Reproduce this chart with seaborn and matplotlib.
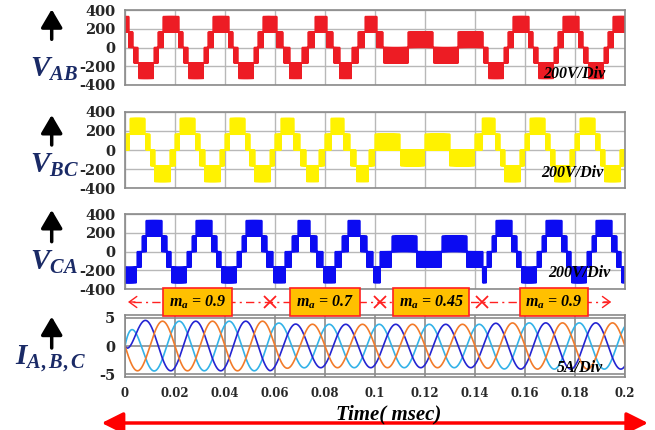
import numpy as np
import pandas as pd
import matplotlib
matplotlib.use("Agg")
import matplotlib.pyplot as plt
from matplotlib.patches import FancyArrowPatch
import seaborn as sns

# ---- operating schedule and waveform parameters ----
SEG_EDGES = [0.0, 0.058, 0.102, 0.143, 0.2]      # s, modulation-index change instants
MOD_INDEX = [0.9, 0.7, 0.45, 0.9]                # modulation index in each interval
CURRENT_AMP = [4.4, 3.85, 3.85, 4.1]             # A, load-current peak in each interval

LINE_NAMES = ["AB", "BC", "CA"]
LINE_PEAK_T = [-0.00167, 0.005, 0.01167]         # s, positive-peak instant of each line voltage
LINE_COLORS = ["#ed1c24", "#fff200", "#0b0bf2"]

PHASE_NAMES = ["A", "B", "C"]
PHASE_PEAK_T = [0.0017, 0.0083, 0.0150]          # s, positive-peak instant of each phase current
PHASE_COLORS = {"A": "#33b2e8", "B": "#2424d2", "C": "#f27b2a"}

V_STEP = 165.0       # V, one DC source of the cascaded bridge
F_GRID = 50.0        # Hz
F_CARRIER = 2500.0   # Hz
TAU_START = 0.0025   # s, start-up offset decay
TAU_AMP = 0.004      # s, current envelope response

V_TICKS = [-400, -200, 0, 200, 400]
I_TICKS = [-5, 0, 5]
T_TICKS = [0, 0.02, 0.04, 0.06, 0.08, 0.1, 0.12, 0.14, 0.16, 0.18, 0.2]
T_TICK_LABELS = ["0", "0.02", "0.04", "0.06", "0.08", "0.1", "0.12",
                 "0.14", "0.16", "0.18", "0.2"]

# ---- signals ----
dt = 1e-5
t = np.arange(0.0, 0.2 + dt / 2, dt)
seg = np.clip(np.searchsorted(SEG_EDGES, t, side="right") - 1, 0, len(MOD_INDEX) - 1)
ma = np.asarray(MOD_INDEX)[seg]
w = 2 * np.pi * F_GRID
carrier = np.abs(((t * F_CARRIER) % 1.0) * 2.0 - 1.0)

line_frames = []
for name, tp in zip(LINE_NAMES, LINE_PEAK_T):
    ref = 2.0 * ma * np.cos(w * (t - tp))
    base = np.floor(ref)
    level = base + ((ref - base) > carrier)
    line_frames.append(pd.DataFrame({"t": t, "v": level * V_STEP}))

amp_step = np.asarray(CURRENT_AMP)[seg]
amp = np.empty_like(amp_step)
amp[0] = amp_step[0]
for k in range(1, len(t)):
    amp[k] = amp[k - 1] + (amp_step[k] - amp[k - 1]) * dt / TAU_AMP

cur_rows = []
for name, tp in zip(PHASE_NAMES, PHASE_PEAK_T):
    i_ss = amp * np.cos(w * (t - tp))
    i = i_ss - CURRENT_AMP[0] * np.cos(w * (0 - tp)) * np.exp(-t / TAU_START)
    cur_rows.append(pd.DataFrame({"t": t, "i": i, "phase": name}))
cur_df = pd.concat(cur_rows, ignore_index=True)

# ---- figure ----
sns.set_style("white")
plt.rcParams.update({
    "font.family": ["DejaVu Serif"],
    "axes.unicode_minus": False,
    "mathtext.fontset": "custom",
    "mathtext.it": "Liberation Serif:italic:bold",
    "mathtext.rm": "Liberation Serif:bold",
    "mathtext.bf": "Liberation Serif:bold",
})

W, H = 655, 430
fig = plt.figure(figsize=(W / 100, H / 100), dpi=100)


def fx(px):
    return px / W


def fy(py):
    return 1 - py / H


def panel(top, bottom):
    return fig.add_axes([fx(125), fy(bottom), fx(625) - fx(125), (bottom - top) / H])


boxes = [(10, 85), (111.7, 188.3), (214, 289.3), (315, 377)]
axes = [panel(*b) for b in boxes]

for ax in axes:
    ax.set_xlim(0, 0.2)
    ax.set_xticks(T_TICKS)
    for s in ax.spines.values():
        s.set_color("#8a8a8a")
        s.set_linewidth(1.2)
    ax.tick_params(length=0, pad=7)

for ax, df, col in zip(axes[:3], line_frames, LINE_COLORS):
    sns.lineplot(data=df, x="t", y="v", ax=ax, color=col, lw=1.2,
                 estimator=None, sort=False, legend=False)
    ax.set_ylim(-400, 400)
    ax.set_yticks(V_TICKS)
    ax.set_yticklabels([str(v) for v in V_TICKS], fontsize=10.5, fontweight="bold")
    ax.set_xticklabels([])
    ax.grid(True, color="#b8b8b8", lw=1.0)
    ax.set_xlabel("")
    ax.set_ylabel("")

ax4 = axes[3]
sns.lineplot(data=cur_df, x="t", y="i", hue="phase", palette=PHASE_COLORS,
             ax=ax4, lw=1.2, estimator=None, sort=False, legend=False)
ax4.set_ylim(-5.5, 5.5)
ax4.set_yticks(I_TICKS)
ax4.set_yticklabels([str(v) for v in I_TICKS], fontsize=10.5, fontweight="bold")
ax4.set_xticklabels(T_TICK_LABELS, fontsize=8.5, fontweight="bold")
ax4.grid(True, color="#8c8c8c", lw=1.2)
ax4.set_xlabel("")
ax4.set_ylabel("")

# ---- channel names with upward arrows ----
navy = "#1a2a66"
labels = [(r"$V_{AB}$", 77, 9.3, 39.3), (r"$V_{BC}$", 172.7, 115, 145),
          (r"$V_{CA}$", 270, 210, 241.7), (r"$I_{A,B,C}$", 364, 316.7, 348)]
for text, base, a_top, a_bot in labels:
    x0 = 30 if text.startswith("$V") else 15
    fig.text(fx(x0), fy(base), text, fontsize=21, color=navy, ha="left", va="baseline")
    fig.add_artist(FancyArrowPatch((fx(51.7), fy(a_bot)), (fx(51.7), fy(a_top)),
                                   transform=fig.transFigure,
                                   arrowstyle="-|>,head_length=0.85,head_width=0.5",
                                   mutation_scale=13, lw=2.5, color="black",
                                   shrinkA=0, shrinkB=0))

# ---- scale notes ----
serif_bi = dict(family="Liberation Serif", weight="bold", style="italic")
for txt, x0, base in [("200V/Div", 543, 78.3), ("200V/Div", 541.7, 176.7),
                      ("200V/Div", 548, 277), ("5A/Div", 556.7, 371.7)]:
    fig.text(fx(x0), fy(base), txt, fontsize=11.5, color="black",
             ha="left", va="baseline", **serif_bi)

# ---- modulation-index schedule ----
tr = ax4.get_xaxis_transform()
row_y = (377 - 302) / (377 - 315)
ax4.plot([0.003, 0.193], [row_y, row_y], transform=tr, color="#ff2020", lw=1.0,
         dashes=(6, 3, 1.5, 3), clip_on=False, zorder=3)
for xa, xb in [(0.0012, 0.004), (0.1945, 0.1915)]:
    ax4.annotate("", xy=(xa, row_y), xytext=(xb, row_y), xycoords=tr, textcoords=tr,
                 arrowprops=dict(arrowstyle="->,head_length=0.55,head_width=0.4",
                                 color="#ff2020", lw=1.0, shrinkA=0, shrinkB=0),
                 annotation_clip=False)
ax4.plot(SEG_EDGES[1:-1], [row_y] * (len(SEG_EDGES) - 2), transform=tr,
         linestyle="none", marker="x", ms=9, mew=1.3, color="#ff2020",
         clip_on=False, zorder=4)
for k, m in enumerate(MOD_INDEX):
    xc = 0.5 * (SEG_EDGES[k] + SEG_EDGES[k + 1])
    ax4.text(xc, row_y, rf"$m_a$ = {m}", transform=tr, ha="center", va="center",
             fontsize=11.5, color="black", zorder=5, clip_on=False,
             bbox=dict(boxstyle="square,pad=0.35", fc="#ffc000", ec="#ff2020", lw=1.2),
             **serif_bi)

# ---- time axis title and span arrow ----
fig.text(fx(389), fy(419), "Time( msec)", fontsize=15, ha="center", va="baseline",
         color="black", **serif_bi)
fig.add_artist(FancyArrowPatch((fx(101.7), fy(423)), (fx(648), fy(423)),
                               transform=fig.transFigure,
                               arrowstyle="<|-|>,head_length=1.0,head_width=0.5",
                               mutation_scale=13, lw=2.5, color="#ff0000",
                               shrinkA=0, shrinkB=0))

fig.savefig("out.png", dpi=100)
